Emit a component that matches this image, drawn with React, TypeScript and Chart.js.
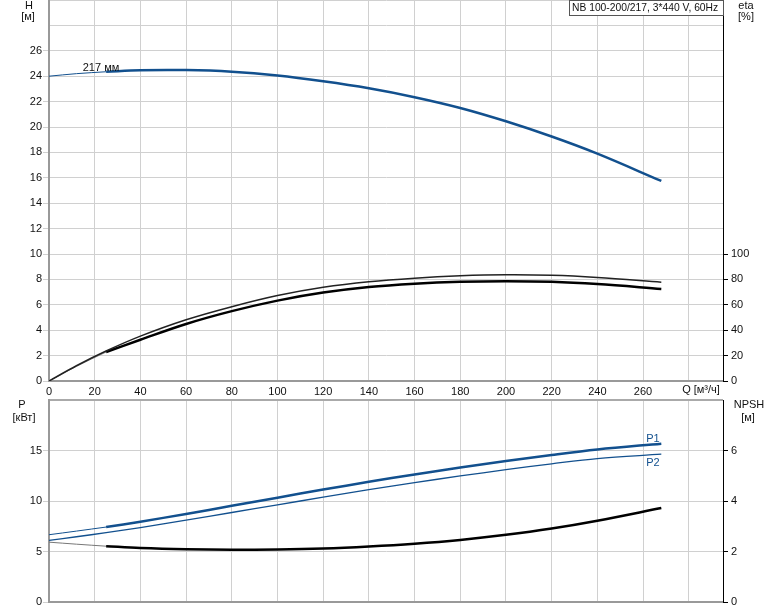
import React, { useEffect, useRef } from 'react';
import { Chart, registerables } from 'chart.js';
Chart.register(...registerables);

// ---- data ----
const flow = [0, 12, 25, 40, 60, 80, 100, 120, 140, 160, 180, 200, 220, 240, 268];
const head = [24.0, 24.2, 24.35, 24.47, 24.48, 24.35, 24.05, 23.6, 23.05, 22.35, 21.5, 20.45, 19.25, 17.9, 15.75];
const etaUpper = [0, 12.0, 23.6, 35.3, 48.2, 58.5, 67.3, 73.8, 78.2, 81.0, 82.8, 83.6, 83.2, 81.5, 77.8];
const etaLower = [0, 11.5, 22.8, 32.5, 44.9, 55.0, 63.3, 69.6, 74.0, 76.6, 78.1, 78.6, 78.1, 76.3, 72.5];
const powerP1 = [6.66, 7.02, 7.42, 7.95, 8.72, 9.52, 10.33, 11.13, 11.9, 12.63, 13.32, 13.96, 14.56, 15.1, 15.68];
const powerP2 = [6.1, 6.46, 6.86, 7.37, 8.1, 8.86, 9.62, 10.38, 11.12, 11.82, 12.48, 13.1, 13.68, 14.2, 14.64];
const npsh = [2.37, 2.29, 2.21, 2.14, 2.09, 2.07, 2.08, 2.12, 2.2, 2.31, 2.46, 2.66, 2.91, 3.22, 3.72];

const xGridValues = [0, 20, 40, 60, 80, 100, 120, 140, 160, 180, 200, 220, 240, 260, 280];
const headTickValues = [0, 2, 4, 6, 8, 10, 12, 14, 16, 18, 20, 22, 24, 26, 28, 30];
const etaTickValues = [0, 20, 40, 60, 80, 100];
const powerTickValues = [0, 5, 10, 15, 20];
const npshTickValues = [0, 2, 4, 6];

const titleText = 'NB 100-200/217, 3*440 V, 60Hz';
const curveLabel = '217 мм';
const xAxisLabel = 'Q [м³/ч]';

const THIN_END = 2; // index of the end of the thin (out-of-range) part
const BLUE = '#12508e';
const GRID = '#d0d0d0';
const AXIS_GRAY = '#999999';
const FONT = "'Liberation Sans', Arial, sans-serif";

Chart.defaults.font.family = FONT;
Chart.defaults.font.size = 11;
Chart.defaults.color = '#111';

const pts = (ys: number[], from: number, to: number) =>
  flow.slice(from, to + 1).map((x, i) => ({ x, y: ys[from + i] }));

const fixTicks = (vals: number[]) => (s: any) => {
  s.ticks = vals.map((v) => ({ value: v }));
};

const noPad = (w?: number, h?: number) => (s: any) => {
  if (w !== undefined) s.width = w;
  if (h !== undefined) s.height = h;
  s.paddingTop = 0;
  s.paddingBottom = 0;
  s.paddingLeft = 0;
  s.paddingRight = 0;
};

const line = (data: any[], color: string, width: number, axis: string) => ({
  data,
  borderColor: color,
  borderWidth: width,
  pointRadius: 0,
  fill: false,
  tension: 0.35,
  yAxisID: axis,
});

const xScale = (showLabels: boolean, h: number) => ({
  type: 'linear' as const,
  min: 0,
  max: 295,
  afterBuildTicks: fixTicks(xGridValues),
  afterFit: noPad(undefined, h),
  ticks: {
    display: showLabels,
    autoSkip: false,
    maxRotation: 0,
    padding: 4,
    callback: (v: any) => (v <= 260 ? String(v) : ''),
  },
  grid: { color: GRID, lineWidth: 1, drawTicks: false },
  border: { color: AXIS_GRAY, width: 2 },
});

const textPlugin = (draw: (ctx: CanvasRenderingContext2D) => void) => ({
  id: 'texts',
  afterDraw(chart: any) {
    const ctx = chart.ctx as CanvasRenderingContext2D;
    ctx.save();
    ctx.font = `11px ${FONT}`;
    ctx.fillStyle = '#111';
    ctx.textBaseline = 'middle';
    draw(ctx);
    ctx.restore();
  },
});

export default function App() {
  const topRef = useRef<HTMLCanvasElement>(null);
  const botRef = useRef<HTMLCanvasElement>(null);

  useEffect(() => {
    const top = new Chart(topRef.current!, {
      type: 'line',
      data: {
        datasets: [
          line(pts(head, 0, THIN_END), BLUE, 1, 'y'),
          line(pts(head, THIN_END, flow.length - 1), BLUE, 2.5, 'y'),
          line(pts(etaUpper, 0, flow.length - 1), '#222', 1.5, 'eta'),
          line(pts(etaLower, 0, THIN_END), '#888', 1, 'eta'),
          line(pts(etaLower, THIN_END, flow.length - 1), '#000', 2.5, 'eta'),
        ],
      },
      options: {
        animation: false,
        responsive: false,
        maintainAspectRatio: false,
        events: [],
        layout: { padding: 0 },
        plugins: { legend: { display: false }, tooltip: { enabled: false } },
        scales: {
          x: xScale(true, 15),
          y: {
            type: 'linear',
            position: 'left',
            min: 0,
            max: 30,
            afterBuildTicks: fixTicks(headTickValues),
            afterFit: noPad(49),
            ticks: { padding: 1, autoSkip: false, callback: (v: any) => (v <= 26 ? String(v) : '') },
            grid: {
              color: GRID,
              lineWidth: 1,
              tickLength: 6,
              tickColor: (c: any) => (c.tick && c.tick.value > 26 ? 'rgba(0,0,0,0)' : GRID),
            },
            border: { color: AXIS_GRAY, width: 2 },
          },
          eta: {
            type: 'linear',
            position: 'right',
            min: 0,
            max: 300,
            afterBuildTicks: fixTicks(etaTickValues),
            afterFit: noPad(51),
            ticks: { padding: 3, autoSkip: false },
            grid: { drawOnChartArea: false, tickLength: 5, tickColor: '#000' },
            border: { color: '#000', width: 1 },
          },
        },
      },
      plugins: [
        textPlugin((ctx) => {
          ctx.textAlign = 'center';
          ctx.fillText('H', 29, 6);
          ctx.fillText('[м]', 28, 17);
          ctx.fillText('eta', 746, 6);
          ctx.fillText('[%]', 746, 17);
          ctx.fillText(xAxisLabel, 701, 390);
          ctx.fillText(curveLabel, 101, 68);
          ctx.fillStyle = '#fff';
          ctx.fillRect(569, 0, 154, 15);
          ctx.strokeStyle = '#555';
          ctx.lineWidth = 1;
          ctx.strokeRect(569.5, 0.5, 154, 15);
          ctx.fillStyle = '#111';
          ctx.textAlign = 'left';
          ctx.font = `10.3px ${FONT}`;
          ctx.fillText(titleText, 572, 8);
        }),
      ],
    } as any);

    const bot = new Chart(botRef.current!, {
      type: 'line',
      data: {
        datasets: [
          line(pts(powerP1, 0, THIN_END), BLUE, 1, 'y'),
          line(pts(powerP1, THIN_END, flow.length - 1), BLUE, 2.5, 'y'),
          line(pts(powerP2, 0, flow.length - 1), BLUE, 1.3, 'y'),
          line(pts(npsh, 0, THIN_END), '#777', 1, 'npsh'),
          line(pts(npsh, THIN_END, flow.length - 1), '#000', 2.5, 'npsh'),
        ],
      },
      options: {
        animation: false,
        responsive: false,
        maintainAspectRatio: false,
        events: [],
        layout: { padding: { top: 4, bottom: 9, left: 0, right: 0 } },
        plugins: { legend: { display: false }, tooltip: { enabled: false } },
        scales: {
          x: xScale(false, 0),
          y: {
            type: 'linear',
            position: 'left',
            min: 0,
            max: 20,
            afterBuildTicks: fixTicks(powerTickValues),
            afterFit: noPad(49),
            ticks: { padding: 1, autoSkip: false, callback: (v: any) => (v <= 15 ? String(v) : '') },
            grid: {
              color: (c: any) => (c.tick && c.tick.value === 20 ? '#aaa' : GRID),
              lineWidth: (c: any) => (c.tick && c.tick.value === 20 ? 2 : 1),
              tickLength: 6,
              tickColor: (c: any) => (c.tick && c.tick.value === 20 ? 'rgba(0,0,0,0)' : GRID),
            },
            border: { color: AXIS_GRAY, width: 2 },
          },
          npsh: {
            type: 'linear',
            position: 'right',
            min: 0,
            max: 8,
            afterBuildTicks: fixTicks(npshTickValues),
            afterFit: noPad(51),
            ticks: { padding: 3, autoSkip: false },
            grid: { drawOnChartArea: false, tickLength: 5, tickColor: '#000' },
            border: { color: '#000', width: 1 },
          },
        },
      },
      plugins: [
        textPlugin((ctx) => {
          ctx.textAlign = 'center';
          ctx.fillText('P', 22, 9);
          ctx.fillText('[кВт]', 24, 22);
          ctx.fillText('NPSH', 749, 9);
          ctx.fillText('[м]', 748, 22);
          ctx.fillStyle = BLUE;
          ctx.fillText('P1', 653, 43);
          ctx.fillText('P2', 653, 67);
        }),
      ],
    } as any);

    return () => {
      top.destroy();
      bot.destroy();
    };
  }, []);

  return (
    <div style={{ position: 'fixed', left: 0, top: 0, width: 774, height: 611, background: '#fff' }}>
      <canvas ref={topRef} width={774} height={396} style={{ position: 'absolute', left: 0, top: 0 }} />
      <canvas ref={botRef} width={774} height={215} style={{ position: 'absolute', left: 0, top: 396 }} />
    </div>
  );
}
